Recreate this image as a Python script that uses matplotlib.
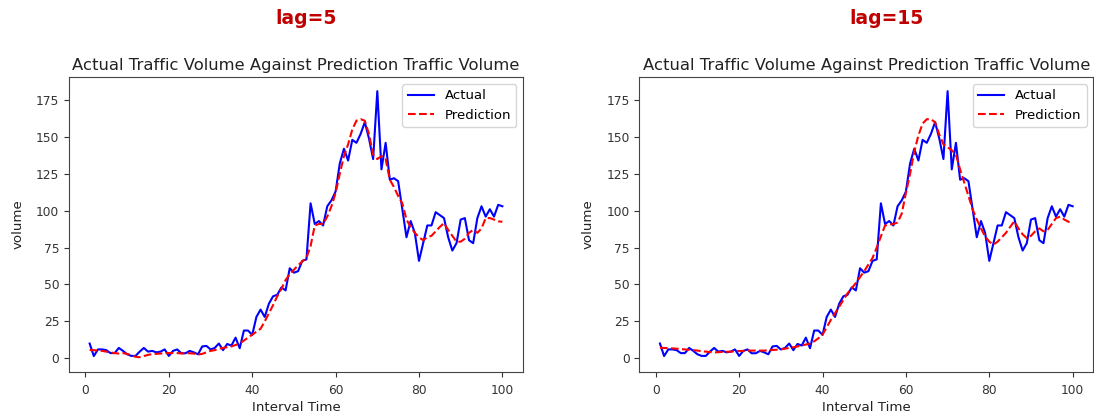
import matplotlib
matplotlib.use("Agg")
import matplotlib.pyplot as plt
import numpy as np

interval = list(range(1, 101))

actual = [10, 1.5, 6, 6, 5.5, 3.5, 3.5, 7, 5, 2.7,
          1.6, 1.6, 4.5, 7, 4.5, 5, 4, 4.5, 6, 1.6,
          5, 6, 3.4, 3.4, 5, 4, 2.7, 8, 8.4, 6,
          7, 10, 5.5, 9.7, 8.6, 14, 6.8, 18.8, 18.8, 15.8,
          28, 33, 28, 37, 42, 43, 48, 46, 61, 58,
          59, 66, 67, 105, 91, 93, 90, 103, 107, 113,
          132, 142, 134, 148, 146, 152, 160, 149, 135, 181,
          128, 146, 121, 122, 120, 101, 82, 93, 85, 66,
          78, 90, 90, 99, 97, 95, 82, 73, 78, 94,
          95, 80, 78, 95, 103, 96, 101, 96, 104, 103]

pred_lag5 = [5.6, 5.5, 5.2, 5, 4.5, 4, 3.5, 3.2, 3.5, 3,
             2, 1, 0.7, 1.5, 2.3, 2.8, 3, 3.2, 3.5, 3.5,
             3.6, 3.5, 3.3, 3.4, 3.4, 3.2, 2.5, 3, 4, 5,
             5.5, 6.5, 7, 7.5, 8, 9, 10, 12, 14, 16,
             18, 20, 25, 30.5, 36, 42, 47, 53, 57, 60,
             63, 65.6, 68, 76, 90, 91, 91, 96, 103, 112,
             125, 137, 145, 155, 161, 162, 161, 152, 138, 135,
             137, 135, 121, 116, 110, 105, 94, 89, 85, 82,
             80, 82, 83, 86, 89, 91.6, 87, 83, 79, 79,
             81, 85, 87, 85, 88, 95, 95, 94, 92.8, 92.5]

pred_lag15 = [7.2, 7, 6.8, 6.7, 6.5, 6.2, 6, 5.7, 5.5, 5.2,
              4.8, 4.5, 4.2, 4, 4.1, 4.3, 4.4, 4.5, 4.7, 4.9,
              5, 5.2, 5.2, 5.2, 5.2, 5.2, 5.4, 5.6, 5.8, 6,
              6.5, 7, 7.5, 8, 8.7, 9.3, 10, 11.5, 13.5, 16,
              21, 26, 30.5, 35, 39.5, 44, 47.5, 51, 55, 59,
              63.5, 68, 75, 82.6, 90, 90.5, 91, 92, 98, 112,
              125, 140, 151, 159, 162, 162, 160, 151.6, 145, 143,
              141, 138, 128, 119, 110, 101, 94, 88, 82.6, 79,
              77, 79, 82, 85, 89, 92.8, 88, 84, 81.4, 83,
              86, 88, 86, 87, 91, 95, 96, 94, 92.5, 91.6]

panel_labels = ["lag=5", "lag=15"]
predictions = [pred_lag5, pred_lag15]
title_text = "Actual Traffic Volume Against Prediction Traffic Volume"
xticks = [0, 20, 40, 60, 80, 100]
yticks = [0, 25, 50, 75, 100, 125, 150, 175]

W, H = 1094, 415
fig = plt.figure(figsize=(W / 100, H / 100), dpi=100)

ax_rects = [
    [69 / W, (H - 371.7) / H, 454 / W, 294.4 / H],
    [639.3 / W, (H - 371.7) / H, 454 / W, 294.4 / H],
]
label_x = [306.5 / W, 886 / W]

for rect, pred, lab, lx in zip(ax_rects, predictions, panel_labels, label_x):
    ax = fig.add_axes(rect)
    ax.plot(interval, actual, color="b", lw=1.5, label="Actual")
    ax.plot(interval, pred, color="r", ls="--", lw=1.5, label="Prediction")
    ax.set_xticks(xticks)
    ax.set_yticks(yticks)
    ax.set_ylim(-9.1, 190.4)
    ax.tick_params(labelsize=8.8, colors="#333333")
    ax.tick_params(axis="x", pad=5)
    for s in ax.spines.values():
        s.set_color("#444444")
    ax.set_title(title_text, fontsize=11.8, pad=5, color="#222222")
    ax.set_xlabel("Interval Time", fontsize=9.6, labelpad=3.5, color="#222222")
    ax.set_ylabel("volume", fontsize=9.6, labelpad=8, color="#222222")
    ax.legend(loc="upper right", fontsize=9.5)
    fig.text(lx, (H - 18) / H, lab, color="#c00000", fontsize=13.5,
             fontweight="bold", ha="center", va="center")

fig.savefig("out.png", dpi=100)
